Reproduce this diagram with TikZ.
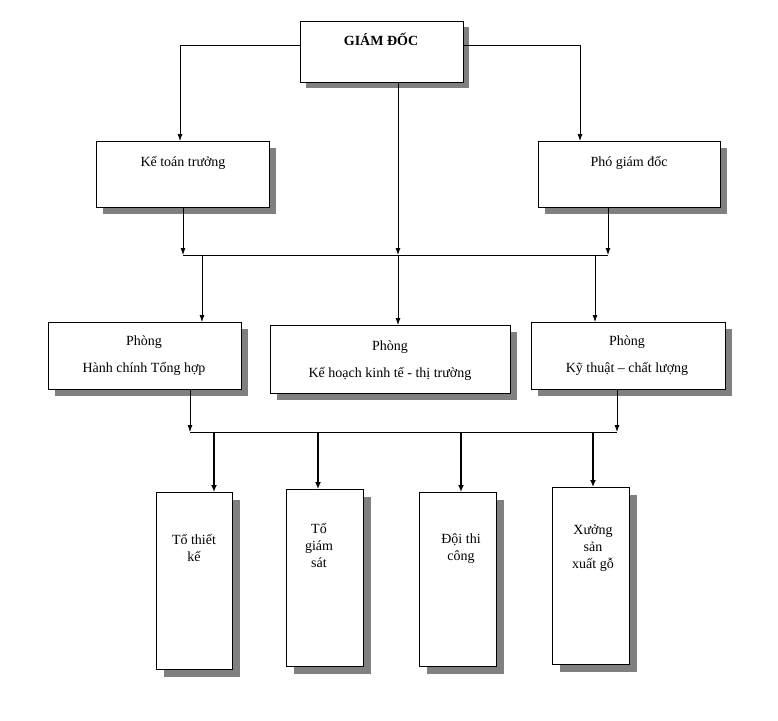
\documentclass[tikz,border=0pt]{standalone}
\usepackage{fontspec}
\setmainfont{Liberation Serif}
\usetikzlibrary{arrows.meta}
\begin{document}
\begin{tikzpicture}[x=1pt,y=-1pt,
  box/.style={draw=black,fill=white,line width=0.8pt,inner sep=0pt,anchor=north west},
  shd/.style={fill=black!50,draw=none},
  txt/.style={font=\fontsize{14}{17}\selectfont,align=center,inner sep=0pt},
  ln/.style={line width=0.8pt},
  arr/.style={ln,-{Latex[length=7pt,width=5pt]}},
  tarr/.style={line width=1.6pt,-{Latex[length=7pt,width=6pt]}}]
\useasboundingbox (0,0) rectangle (778,720);
\newcommand{\mybox}[6]{%
  \fill[shd] (#2+#6,#3+#6) rectangle (#4+#6,#5+#6);
  \node[box,minimum width=#4-#2,minimum height=#5-#3] (#1) at (#2,#3) {};}
\mybox{gd}{300}{21}{463}{82}{6}
\mybox{ktt}{96}{141}{269}{207}{7}
\mybox{pgd}{538}{141}{720}{207}{7}
\mybox{hc}{48}{322}{241}{389}{7}
\mybox{kh}{270}{325}{510}{393}{7}
\mybox{kt}{531}{322}{725}{389}{7}
\mybox{b1}{156}{492}{232}{669}{8}
\mybox{b2}{286}{489}{363}{666}{8}
\mybox{b3}{419}{492}{496}{666}{8}
\mybox{b4}{552}{487}{629}{664}{8}
\node[txt,font=\fontsize{14}{17}\selectfont\bfseries] (tgd) at (381,39) {GIÁM ĐỐC};
\node[txt] (tktt) at (183,163) {Kế toán trưởng};
\node[txt] (tpgd) at (629,163) {Phó giám đốc};
\node[txt,font=\fontsize{14}{27}\selectfont] (thc) at (144,356) {Phòng\\Hành chính Tổng hợp};
\node[txt,font=\fontsize{14}{27}\selectfont] (tkh) at (390,361) {Phòng\\Kế hoạch kinh tế - thị trường};
\node[txt,font=\fontsize{14}{27}\selectfont] (tkt) at (627,356) {Phòng\\Kỹ thuật – chất lượng};
\node[txt,anchor=north] (t1) at (194,534) {Tổ thiết\\kế};
\node[txt,anchor=north] (t2) at (319,523) {Tổ\\giám\\sát};
\node[txt,anchor=north] (t3) at (461,534) {Đội thi\\công};
\node[txt,anchor=north] (t4) at (593,525) {Xưởng\\sản\\xuất gỗ};
% top connections
\coordinate (gl) at (180,45); \coordinate (gr) at (580,45);
\draw[arr] (gd.west |- gl) -- (gl) -- (ktt.north -| gl);
\draw[arr] (gd.east |- gr) -- (gr) -- (pgd.north -| gr);
\coordinate (b1l) at (183,255); \coordinate (b1r) at (608,255); \coordinate (b1m) at (398,255);
\draw[ln] (b1l) -- (b1r);
\draw[arr] (ktt.south -| b1l) -- (b1l);
\draw[arr] (pgd.south -| b1r) -- (b1r);
\draw[arr] (gd.south -| b1m) -- (b1m);
\coordinate (d1) at (202,255); \coordinate (d3) at (595,255);
\draw[arr] (d1) -- (hc.north -| d1);
\draw[arr] (b1m) -- (kh.north -| b1m);
\draw[arr] (d3) -- (kt.north -| d3);
% lower bus
\coordinate (b2l) at (190,432); \coordinate (b2r) at (617,432);
\draw[ln] (b2l) -- (b2r);
\draw[arr] (hc.south -| b2l) -- (b2l);
\draw[arr] (kt.south -| b2r) -- (b2r);
\coordinate (e1) at (214,432); \coordinate (e2) at (318,432);
\coordinate (e3) at (461,432); \coordinate (e4) at (593,432);
\draw[tarr] (e1) -- (b1.north -| e1);
\draw[tarr] (e2) -- (b2.north -| e2);
\draw[tarr] (e3) -- (b3.north -| e3);
\draw[tarr] (e4) -- (b4.north -| e4);
\end{tikzpicture}
\end{document}
